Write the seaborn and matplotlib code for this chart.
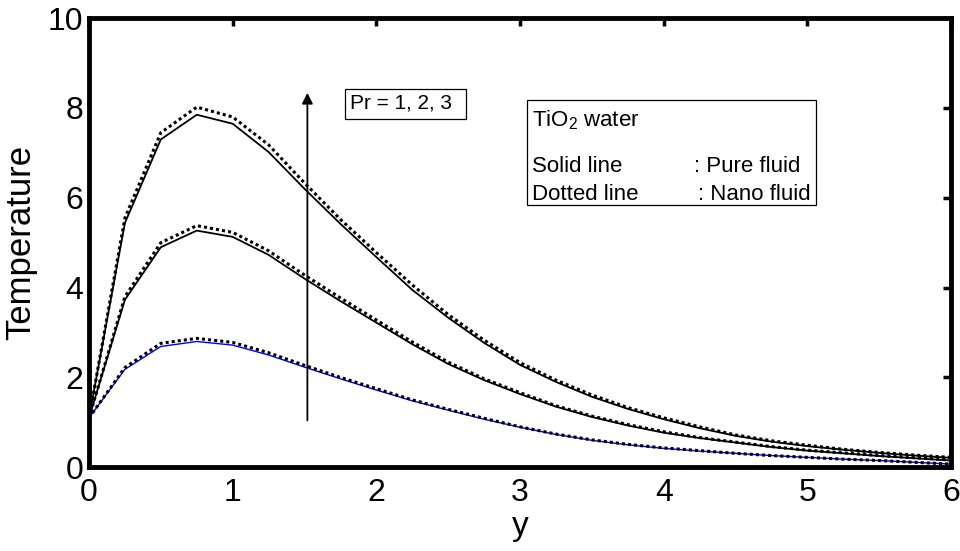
import matplotlib
matplotlib.use('Agg')
import matplotlib.pyplot as plt
import seaborn as sns
from matplotlib.patches import Rectangle

# data
y_pos = [0.0, 0.25, 0.5, 0.75, 1.0, 1.25, 1.5, 1.75, 2.0, 2.25, 2.5, 2.75, 3.0,
         3.25, 3.5, 3.75, 4.0, 4.25, 4.5, 4.75, 5.0, 5.25, 5.5, 5.75, 6.0]

# Pr = 1
pure_pr1 = [1.1, 2.18, 2.69, 2.8, 2.72, 2.5, 2.23, 1.97, 1.72, 1.48, 1.27, 1.07, 0.89,
            0.73, 0.6, 0.5, 0.42, 0.36, 0.31, 0.26, 0.22, 0.18, 0.15, 0.11, 0.07]
nano_pr1 = [1.1, 2.22, 2.76, 2.87, 2.78, 2.55, 2.27, 2.0, 1.75, 1.5, 1.29, 1.09, 0.9,
            0.74, 0.61, 0.51, 0.43, 0.37, 0.31, 0.26, 0.22, 0.18, 0.15, 0.11, 0.07]
# Pr = 2
pure_pr2 = [1.1, 3.73, 4.9, 5.27, 5.13, 4.73, 4.2, 3.7, 3.22, 2.74, 2.3, 1.94, 1.63,
            1.35, 1.12, 0.93, 0.77, 0.65, 0.55, 0.45, 0.37, 0.31, 0.25, 0.2, 0.15]
nano_pr2 = [1.1, 3.8, 5.0, 5.38, 5.23, 4.82, 4.28, 3.77, 3.28, 2.79, 2.34, 1.97, 1.66,
            1.37, 1.14, 0.95, 0.79, 0.66, 0.56, 0.46, 0.38, 0.32, 0.26, 0.21, 0.16]
# Pr = 3
pure_pr3 = [1.1, 5.44, 7.3, 7.85, 7.65, 7.02, 6.2, 5.42, 4.68, 3.95, 3.33, 2.77, 2.28,
            1.9, 1.57, 1.3, 1.07, 0.87, 0.7, 0.57, 0.47, 0.39, 0.32, 0.26, 0.21]
nano_pr3 = [1.1, 5.55, 7.45, 8.02, 7.8, 7.18, 6.33, 5.52, 4.78, 4.06, 3.4, 2.83, 2.33,
            1.94, 1.61, 1.33, 1.1, 0.9, 0.72, 0.59, 0.49, 0.4, 0.33, 0.27, 0.22]

sns.set_style('white')
plt.rcParams['font.family'] = ['Liberation Sans', 'DejaVu Sans']
plt.rcParams['mathtext.fontset'] = 'custom'
plt.rcParams['mathtext.rm'] = 'Liberation Sans'
plt.rcParams['text.color'] = 'black'
plt.rcParams['axes.labelcolor'] = 'black'
plt.rcParams['xtick.color'] = 'black'
plt.rcParams['ytick.color'] = 'black'

fig = plt.figure(figsize=(9.6, 5.51), dpi=100)
ax = fig.add_axes([0.0927, 0.152, 0.898, 0.815])

# solid = pure fluid, dotted = nano fluid
sns.lineplot(x=y_pos, y=pure_pr1, color='blue', linewidth=1.0, ax=ax)
sns.lineplot(x=y_pos, y=pure_pr2, color='black', linewidth=1.3, ax=ax)
sns.lineplot(x=y_pos, y=pure_pr3, color='black', linewidth=1.3, ax=ax)
for s in [nano_pr1, nano_pr2, nano_pr3]:
    sns.lineplot(x=y_pos, y=s, color='black', linewidth=2.2, linestyle=(0, (1, 1)), ax=ax)

ax.set_xlim(0, 6)
ax.set_ylim(0, 10)
ax.set_xticks(range(0, 7))
ax.set_yticks(range(0, 11, 2))
ax.set_xlabel('y', fontsize=24, labelpad=2)
ax.set_ylabel('Temperature', fontsize=25, labelpad=8)
ax.tick_params(direction='in', length=6, width=2.5, labelsize=23,
               top=True, right=True)
ax.tick_params(axis='x', pad=8)
ax.tick_params(axis='y', pad=4)
for sp in ax.spines.values():
    sp.set_linewidth(3.5)
    sp.set_color('black')

# arrow showing increasing Pr
ax.annotate('', xy=(1.52, 8.4), xytext=(1.52, 0.98),
            arrowprops=dict(arrowstyle='-|>', color='black', lw=1.3,
                            mutation_scale=16))
ax.add_patch(Rectangle((1.78, 7.76), 0.845, 0.66, fill=False, ec='black', lw=0.9))
ax.text(1.82, 7.98, 'Pr = 1, 2, 3', fontsize=15, va='baseline')

# legend box
ax.add_patch(Rectangle((3.05, 5.84), 2.01, 2.34, fill=False, ec='black', lw=0.9))
fs = 16
ax.text(3.08, 7.58, 'TiO$_2$ water', fontsize=fs, va='baseline')
ax.text(3.08, 6.58, 'Solid line', fontsize=fs, va='baseline')
ax.text(3.08, 5.96, 'Dotted line', fontsize=fs, va='baseline')
ax.text(4.21, 6.58, ': Pure fluid', fontsize=fs, va='baseline')
ax.text(4.24, 5.96, ': Nano fluid', fontsize=fs, va='baseline')

fig.savefig('out.png', dpi=100)
